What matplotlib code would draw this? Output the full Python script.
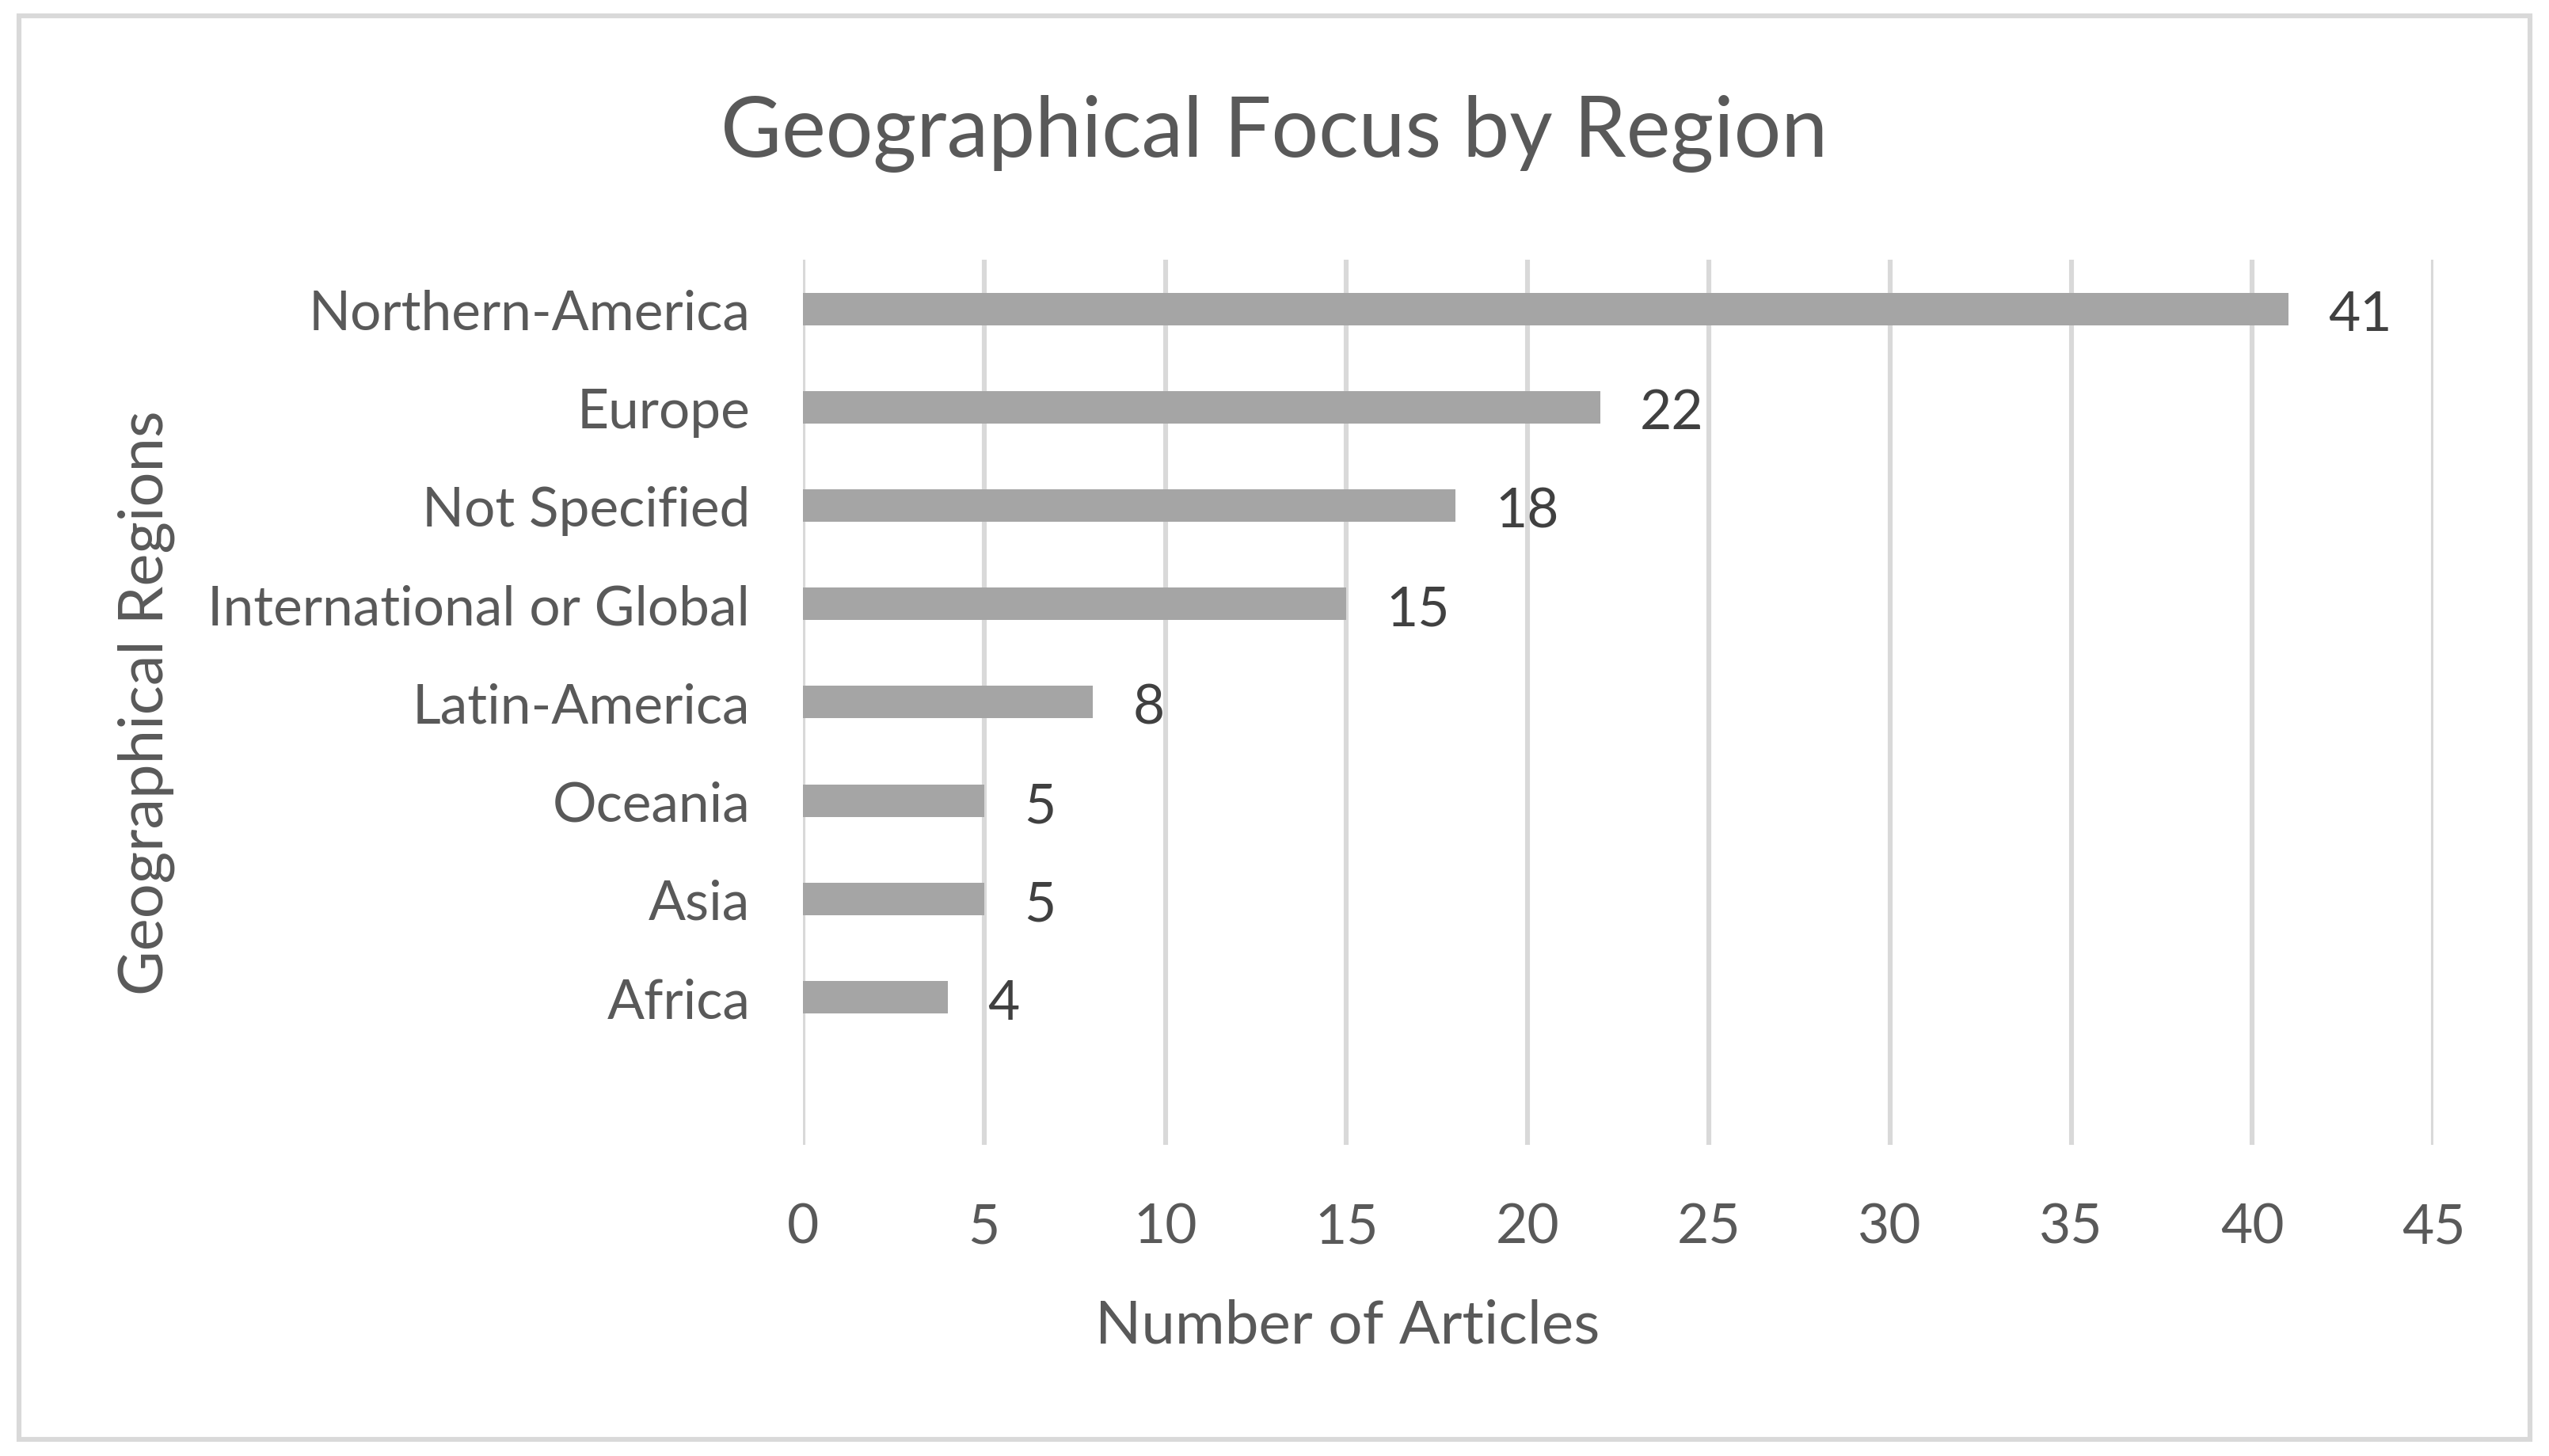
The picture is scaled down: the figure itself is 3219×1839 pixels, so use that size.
import matplotlib
matplotlib.use("Agg")
import matplotlib.pyplot as plt
from matplotlib.patches import Rectangle
import numpy as np

plt.rcParams["font.family"] = ["Lato", "DejaVu Sans"]

regions = ["Africa", "Asia", "Oceania", "Latin-America", "International or Global",
           "Not Specified", "Europe", "Northern-America"]
articles = [4, 5, 5, 8, 15, 18, 22, 41]
xticks = [0, 5, 10, 15, 20, 25, 30, 35, 40, 45]

bar_color = "#a5a5a5"
grid_color = "#d9d9d9"
text_color = "#595959"

fig = plt.figure(figsize=(16.095, 9.2), dpi=200)
ax = fig.add_axes([0.315, 0.2136, 0.6397, 0.6076])

ypos = np.arange(len(regions))
ax.barh(ypos, articles, height=0.33, color=bar_color, zorder=3)
for y, v in zip(ypos, articles):
    ax.text(v + 1.1, y - 0.06, str(v), ha="left", va="center", fontsize=25, color="#404040")

ax.set_xlim(0, 45)
ax.set_ylim(-1.5, len(regions) - 0.5)
ax.set_xticks(xticks)
ax.set_yticks(ypos)
ax.set_yticklabels(regions)
ax.tick_params(axis="both", length=0, labelsize=25, colors=text_color)
ax.tick_params(axis="x", pad=26)
ax.tick_params(axis="y", pad=24)
ax.grid(axis="x", color=grid_color, linewidth=2.2, zorder=0)
for s in ax.spines.values():
    s.set_visible(False)

ax.set_xlabel("Number of Articles", fontsize=27.5, color=text_color)
ax.xaxis.set_label_coords(0.334, -0.173)
ax.set_ylabel("Geographical Regions", fontsize=28, color=text_color)
ax.yaxis.set_label_coords(-0.385, 0.5)
fig.suptitle("Geographical Focus by Region", x=0.5, y=0.935, fontsize=38, color=text_color)

# chart border
fig.patches.append(Rectangle((0.0075, 0.0115), 0.985, 0.977, transform=fig.transFigure,
                             fill=False, edgecolor=grid_color, linewidth=2.2))

fig.savefig("out.png", dpi=200, facecolor="white")
